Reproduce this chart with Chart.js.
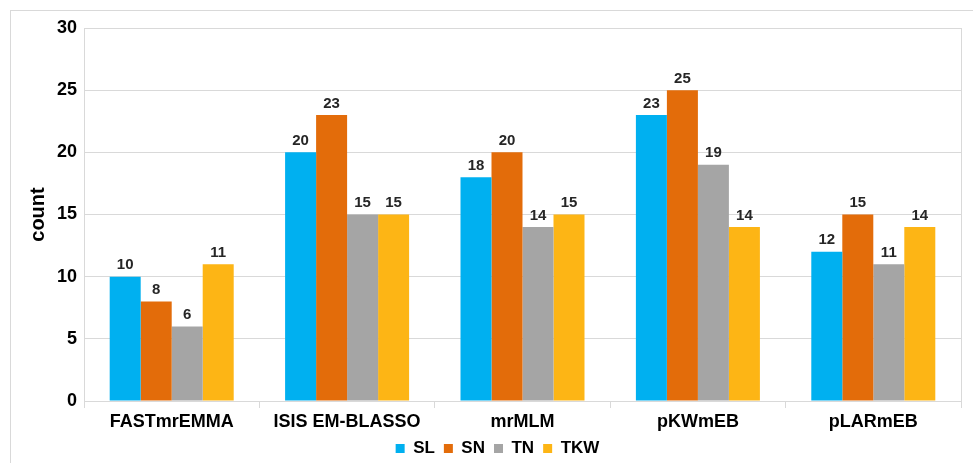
<!DOCTYPE html>
<html>
<head>
<meta charset="utf-8">
<script src="https://cdn.jsdelivr.net/npm/chart.js@4/dist/chart.umd.min.js"></script>
<style>
  html, body { margin: 0; padding: 0; background: #fff; }
  #wrap { width: 973px; height: 463px; }
</style>
</head>
<body>
<div id="wrap"><canvas id="c" width="973" height="463"></canvas></div>
<script>
// Number of associated loci detected by each multi-locus method, per trait
const methods = ['FASTmrEMMA', 'ISIS EM-BLASSO', 'mrMLM', 'pKWmEB', 'pLARmEB'];
const traitNames = ['SL', 'SN', 'TN', 'TKW'];
const slCounts  = [10, 20, 18, 23, 12];
const snCounts  = [8, 23, 20, 25, 15];
const tnCounts  = [6, 15, 14, 19, 11];
const tkwCounts = [11, 15, 15, 14, 14];
const yTicks = [0, 5, 10, 15, 20, 25, 30];

const colors = ['#00B0F0', '#E36C0A', '#A5A5A5', '#FDB515'];
const seriesValues = [slCounts, snCounts, tnCounts, tkwCounts];
const FONT = '"Liberation Sans", Arial, sans-serif';
const GRID = '#D9D9D9';
const LEGEND_HEIGHT = 30;

// Frame around the figure, right edge of the plot area, value labels on bars
const decor = {
  id: 'decor',
  beforeLayout(chart) {
    // keep the legend band compact so the category labels get room
    const lg = chart.legend;
    if (lg && !lg._compactFit) {
      const fit = lg.fit;
      lg.fit = function () {
        fit.apply(this, arguments);
        this.height = LEGEND_HEIGHT;
      };
      lg._compactFit = true;
    }
  },
  afterLayout(chart) {
    // centre the legend under the plot area rather than the whole canvas
    const lg = chart.legend;
    const dx = 17, dy = -2;
    lg.left += dx; lg.right += dx;
    lg.top += dy; lg.bottom += dy;
  },
  beforeDraw(chart) {
    const ctx = chart.ctx;
    ctx.save();
    ctx.fillStyle = '#fff';
    ctx.fillRect(0, 0, chart.width, chart.height);
    ctx.strokeStyle = GRID;
    ctx.lineWidth = 1;
    ctx.strokeRect(10.5, 10.5, chart.width + 20, chart.height + 20);
    ctx.restore();
  },
  afterDraw(chart) {
    const ctx = chart.ctx;
    const a = chart.chartArea;
    ctx.save();
    ctx.strokeStyle = GRID;
    ctx.lineWidth = 1;
    ctx.beginPath();
    ctx.moveTo(Math.round(a.right) + 0.5, a.top);
    ctx.lineTo(Math.round(a.right) + 0.5, a.bottom + 7);
    ctx.stroke();
    ctx.font = 'bold 15px ' + FONT;
    ctx.fillStyle = '#262626';
    ctx.textAlign = 'center';
    ctx.textBaseline = 'bottom';
    chart.data.datasets.forEach((ds, i) => {
      chart.getDatasetMeta(i).data.forEach((bar, j) => {
        ctx.fillText(String(ds.data[j]), bar.x, bar.y - 4);
      });
    });
    ctx.restore();
  }
};

new Chart(document.getElementById('c'), {
  type: 'bar',
  data: {
    labels: methods,
    datasets: traitNames.map((name, i) => ({
      label: name,
      data: seriesValues[i],
      backgroundColor: colors[i],
      borderWidth: 0,
      barPercentage: 1.0,
      categoryPercentage: 0.707
    }))
  },
  options: {
    responsive: false,
    animation: false,
    devicePixelRatio: 1,
    layout: { padding: { left: 0, right: 12, top: 28, bottom: 0 } },
    plugins: {
      tooltip: { enabled: false },
      legend: {
        position: 'bottom',
        labels: {
          font: { family: FONT, size: 17, weight: 'bold' },
          color: '#000',
          boxWidth: 9,
          boxHeight: 9,
          padding: 9
        }
      }
    },
    scales: {
      x: {
        offset: true,
        grid: {
          offset: true,
          drawOnChartArea: false,
          drawTicks: true,
          tickLength: 7,
          color: GRID
        },
        border: { color: GRID },
        ticks: {
          font: { family: FONT, size: 18, weight: 'bold' },
          color: '#000',
          padding: 3,
          maxRotation: 0
        },
        afterFit(scale) { scale.height = 32; }
      },
      y: {
        min: 0,
        max: 30,
        afterBuildTicks(scale) { scale.ticks = yTicks.map(v => ({ value: v })); },
        grid: { color: GRID, drawTicks: false },
        border: { color: GRID },
        ticks: {
          font: { family: FONT, size: 18, weight: 'bold' },
          color: '#000',
          padding: 7
        },
        title: {
          display: true,
          text: 'count',
          font: { family: FONT, size: 20, weight: 'bold' },
          color: '#000',
          padding: { top: 26, bottom: 0 }
        },
        afterFit(scale) { scale.width = 84; }
      }
    }
  },
  plugins: [decor]
});
</script>
</body>
</html>
